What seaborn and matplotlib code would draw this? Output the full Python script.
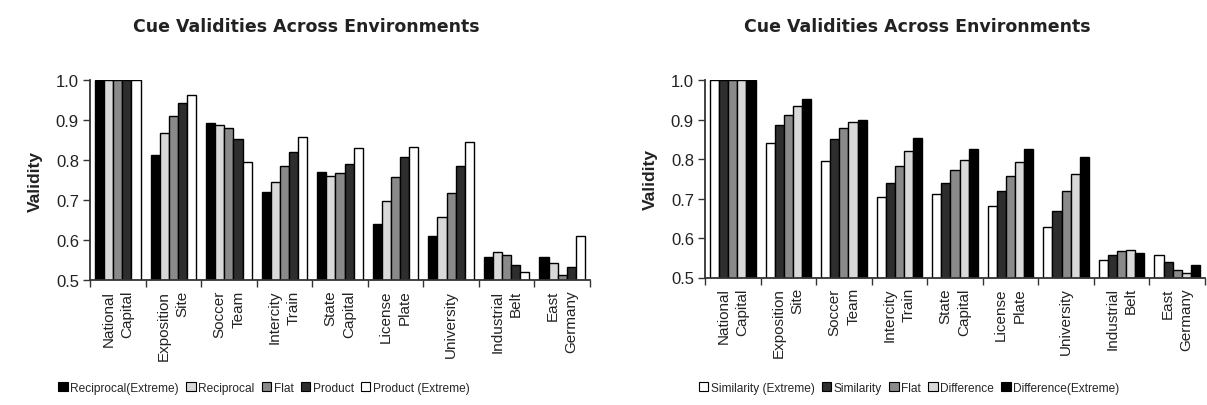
import matplotlib
matplotlib.use("Agg")
import matplotlib.pyplot as plt
from matplotlib.patches import Patch
import numpy as np
import pandas as pd
import seaborn as sns

sns.set_theme(style="white")
plt.rcParams["font.family"] = ["Liberation Sans", "DejaVu Sans"]

environments = ["National\nCapital", "Exposition\nSite", "Soccer\nTeam", "Intercity\nTrain",
                "State\nCapital", "License\nPlate", "University", "Industrial\nBelt", "East\nGermany"]

# Left panel: reciprocal / flat / product weighting schemes
left_series = ["Reciprocal(Extreme)", "Reciprocal", "Flat", "Product", "Product (Extreme)"]
reciprocal_extreme = [1.0, 0.813, 0.892, 0.719, 0.769, 0.640, 0.611, 0.557, 0.557]
reciprocal = [1.0, 0.867, 0.887, 0.746, 0.761, 0.698, 0.657, 0.569, 0.543]
flat_left = [1.0, 0.911, 0.879, 0.784, 0.767, 0.757, 0.717, 0.562, 0.513]
product = [1.0, 0.942, 0.852, 0.819, 0.789, 0.808, 0.784, 0.538, 0.532]
product_extreme = [1.0, 0.963, 0.794, 0.858, 0.829, 0.833, 0.846, 0.519, 0.611]
left_colors = ["#000000", "#d9d9d9", "#8a8a8a", "#2e2e2e", "#ffffff"]

# Right panel: similarity / flat / difference weighting schemes
right_series = ["Similarity (Extreme)", "Similarity", "Flat", "Difference", "Difference(Extreme)"]
similarity_extreme = [1.0, 0.841, 0.795, 0.704, 0.712, 0.681, 0.628, 0.544, 0.556]
similarity = [1.0, 0.885, 0.850, 0.738, 0.740, 0.719, 0.668, 0.557, 0.538]
flat_right = [1.0, 0.911, 0.878, 0.782, 0.771, 0.757, 0.719, 0.566, 0.519]
difference = [1.0, 0.934, 0.894, 0.820, 0.797, 0.793, 0.763, 0.570, 0.511]
difference_extreme = [1.0, 0.953, 0.900, 0.852, 0.825, 0.825, 0.806, 0.563, 0.531]
right_colors = ["#ffffff", "#2e2e2e", "#8a8a8a", "#d9d9d9", "#000000"]


def long_table(series_names, columns):
    rows = []
    for name, vals in zip(series_names, columns):
        for env, v in zip(environments, vals):
            rows.append({"Environment": env, "Scheme": name, "Validity": v})
    return pd.DataFrame(rows)


left_df = long_table(left_series, [reciprocal_extreme, reciprocal, flat_left, product, product_extreme])
right_df = long_table(right_series, [similarity_extreme, similarity, flat_right, difference, difference_extreme])

fig = plt.figure(figsize=(12.07, 4.06), dpi=100)
ax_l = fig.add_axes([90 / 1207, 125 / 406, 500 / 1207, 200 / 406])
ax_r = fig.add_axes([705 / 1207, 127.5 / 406, 500 / 1207, 197.5 / 406])

ink = "#222222"


def draw_panel(ax, df, names, colors, title_x, legend_x):
    sns.barplot(data=df, x="Environment", y="Validity", hue="Scheme", hue_order=names,
                order=environments, palette=colors, width=0.82, edgecolor="black",
                linewidth=1.0, saturation=1, ax=ax, legend=False)
    ax.set_ylim(0.5, 1.0)
    ax.set_xlim(-0.5, len(environments) - 0.5)
    yt = np.arange(0.5, 1.01, 0.1)
    ax.set_yticks(yt)
    ax.set_yticklabels([f"{t:.1f}" for t in yt], fontsize=12, color=ink)
    ax.set_xticks(range(len(environments)))
    ax.set_xticklabels(environments, rotation=90, fontsize=11, ha="center", va="top",
                       multialignment="right", color=ink, linespacing=1.45)
    ax.set_xticks(np.arange(-0.5, len(environments), 1.0), minor=True)
    ax.tick_params(axis="x", which="major", bottom=False, length=0, pad=7)
    ax.tick_params(axis="x", which="minor", bottom=True, length=5, width=1,
                   color="#333333", direction="out")
    ax.tick_params(axis="y", which="major", left=True, length=5, width=1,
                   color="#333333", direction="out", pad=3)
    ax.set_xlabel("")
    ax.set_ylabel("Validity", fontsize=12.5, fontweight="bold", labelpad=9, color=ink)
    for side in ("top", "right"):
        ax.spines[side].set_visible(False)
    for side in ("left", "bottom"):
        ax.spines[side].set_color("#333333")
        ax.spines[side].set_linewidth(1.3)
    ax.set_title("Cue Validities Across Environments", fontsize=12.5, fontweight="bold",
                 family="DejaVu Sans", color=ink, x=title_x, y=1.0, pad=35)
    handles = [Patch(facecolor=c, edgecolor="black", linewidth=0.8, label=n) for n, c in zip(names, colors)]
    fig.legend(handles=handles, loc="center", bbox_to_anchor=(legend_x, 17 / 406), ncol=5,
               frameon=False, fontsize=8.6, handlelength=0.8, handleheight=0.8,
               handletextpad=0.2, columnspacing=0.6)


draw_panel(ax_l, left_df, left_series, left_colors, 0.432, 264 / 1207)
draw_panel(ax_r, right_df, right_series, right_colors, 0.424, 909 / 1207)

fig.savefig("out.png", dpi=100, facecolor="white")
